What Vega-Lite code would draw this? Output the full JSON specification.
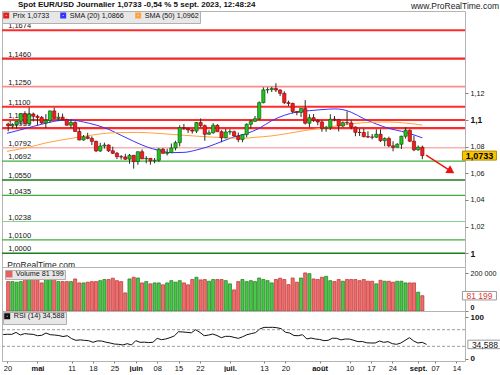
{
"$schema":"https://vega.github.io/schema/vega-lite/v6.json",
"background":"#ffffff",
"padding":0,
"spacing":0,
"bounds":"flush",
"title":{"text":"www.ProRealTime.com","anchor":"end","frame":"group","dx":34,"offset":-10,"font":"Liberation Sans","fontSize":8.5,"fontWeight":"normal","color":"#222222"},
"config":{
 "locale":{"number":{"decimal":",","thousands":" ","grouping":[3],"currency":["","€"]}},
 "font":"Liberation Sans",
 "view":{"stroke":"#b4b4b4","strokeWidth":1},
 "axis":{"labelFont":"Liberation Sans","labelColor":"#111111","tickColor":"#808080","domain":false,"grid":false,"labelOverlap":false,"labelFlush":false,"labelFontSize":7.2,"tickSize":3,"labelPadding":2},
 "legend":{"orient":"top-left","direction":"horizontal","offset":1,"padding":0.6,"fillColor":"#e7e7e7","strokeColor":"#b0b0b0","labelFont":"Liberation Sans","labelFontSize":7.2,"labelColor":"#111111","symbolType":"square","columnPadding":6,"labelOffset":3,"rowPadding":0}
},
"datasets":{
"d":[
{"d":"04-19","i":-1,"o":1.0970,"h":1.0980,"l":1.0915,"c":1.0957,"v":156000,"r":58.5},
{"d":"04-20","i":0,"o":1.0957,"h":1.0976,"l":1.0937,"c":1.0966,"v":156000,"r":59},
{"d":"04-21","i":1,"o":1.0966,"h":1.0990,"l":1.0936,"c":1.0990,"v":153000,"r":58.8},
{"d":"04-24","i":2,"o":1.0990,"h":1.1050,"l":1.0964,"c":1.1048,"v":156000,"r":63.5},
{"d":"04-25","i":3,"o":1.1048,"h":1.1066,"l":1.0965,"c":1.0973,"v":167000,"r":57.2},
{"d":"04-26","i":4,"o":1.0973,"h":1.1095,"l":1.0962,"c":1.1045,"v":170000,"r":60.5},
{"d":"04-27","i":5,"o":1.1045,"h":1.1056,"l":1.0989,"c":1.1028,"v":167000,"r":59.5},
{"d":"04-28","i":6,"o":1.1028,"h":1.1040,"l":1.0961,"c":1.1019,"v":167000,"r":58.8},
{"d":"05-01","i":7,"o":1.1019,"h":1.1030,"l":1.0970,"c":1.0978,"v":149000,"r":55.6},
{"d":"05-02","i":8,"o":1.0978,"h":1.1044,"l":1.0940,"c":1.0996,"v":167000,"r":56.5},
{"d":"05-03","i":9,"o":1.0996,"h":1.1070,"l":1.0980,"c":1.1068,"v":167000,"r":62},
{"d":"05-04","i":10,"o":1.1068,"h":1.1092,"l":1.1008,"c":1.1012,"v":167000,"r":58},
{"d":"05-05","i":11,"o":1.1012,"h":1.1054,"l":1.0993,"c":1.1021,"v":156000,"r":57.2},
{"d":"05-08","i":12,"o":1.1021,"h":1.1048,"l":1.0998,"c":1.1003,"v":156000,"r":56},
{"d":"05-09","i":13,"o":1.1003,"h":1.1010,"l":1.0957,"c":1.0961,"v":156000,"r":53.5},
{"d":"05-10","i":14,"o":1.0961,"h":1.1004,"l":1.0940,"c":1.0982,"v":156000,"r":55.6},
{"d":"05-11","i":15,"o":1.0982,"h":1.0990,"l":1.0912,"c":1.0914,"v":170000,"r":48.5},
{"d":"05-12","i":16,"o":1.0914,"h":1.0940,"l":1.0848,"c":1.0850,"v":149000,"r":44.4},
{"d":"05-15","i":17,"o":1.0850,"h":1.0887,"l":1.0845,"c":1.0874,"v":149000,"r":45.5},
{"d":"05-16","i":18,"o":1.0874,"h":1.0904,"l":1.0855,"c":1.0862,"v":153000,"r":44.4},
{"d":"05-17","i":19,"o":1.0862,"h":1.0877,"l":1.0812,"c":1.0840,"v":156000,"r":43.5},
{"d":"05-18","i":20,"o":1.0840,"h":1.0845,"l":1.0760,"c":1.0768,"v":156000,"r":39.6},
{"d":"05-19","i":21,"o":1.0768,"h":1.0829,"l":1.0760,"c":1.0805,"v":161000,"r":43},
{"d":"05-22","i":22,"o":1.0805,"h":1.0830,"l":1.0786,"c":1.0812,"v":167000,"r":42.8},
{"d":"05-23","i":23,"o":1.0812,"h":1.0818,"l":1.0760,"c":1.0769,"v":167000,"r":40},
{"d":"05-24","i":24,"o":1.0769,"h":1.0800,"l":1.0745,"c":1.0750,"v":174000,"r":38},
{"d":"05-25","i":25,"o":1.0750,"h":1.0760,"l":1.0707,"c":1.0725,"v":161000,"r":35.5},
{"d":"05-26","i":26,"o":1.0725,"h":1.0737,"l":1.0703,"c":1.0723,"v":156000,"r":34.8},
{"d":"05-29","i":27,"o":1.0723,"h":1.0746,"l":1.0701,"c":1.0706,"v":96000,"r":33.2},
{"d":"05-30","i":28,"o":1.0706,"h":1.0745,"l":1.0672,"c":1.0735,"v":170000,"r":36.4},
{"d":"05-31","i":29,"o":1.0735,"h":1.0737,"l":1.0635,"c":1.0688,"v":179000,"r":33.2},
{"d":"06-01","i":30,"o":1.0688,"h":1.0764,"l":1.0664,"c":1.0762,"v":175000,"r":43.6},
{"d":"06-02","i":31,"o":1.0762,"h":1.0779,"l":1.0708,"c":1.0708,"v":149000,"r":39.6},
{"d":"06-05","i":32,"o":1.0708,"h":1.0729,"l":1.0675,"c":1.0712,"v":156000,"r":40},
{"d":"06-06","i":33,"o":1.0712,"h":1.0714,"l":1.0665,"c":1.0693,"v":144000,"r":39},
{"d":"06-07","i":34,"o":1.0693,"h":1.0715,"l":1.0675,"c":1.0698,"v":149000,"r":39.6},
{"d":"06-08","i":35,"o":1.0698,"h":1.0789,"l":1.0685,"c":1.0781,"v":149000,"r":49.2},
{"d":"06-09","i":36,"o":1.0781,"h":1.0790,"l":1.0748,"c":1.0750,"v":139000,"r":46},
{"d":"06-12","i":37,"o":1.0750,"h":1.0785,"l":1.0734,"c":1.0755,"v":149000,"r":47.6},
{"d":"06-13","i":38,"o":1.0755,"h":1.0823,"l":1.0752,"c":1.0790,"v":161000,"r":50.8},
{"d":"06-14","i":39,"o":1.0790,"h":1.0844,"l":1.0772,"c":1.0830,"v":153000,"r":55},
{"d":"06-15","i":40,"o":1.0830,"h":1.0960,"l":1.0802,"c":1.0943,"v":161000,"r":65.2},
{"d":"06-16","i":41,"o":1.0943,"h":1.0970,"l":1.0925,"c":1.0938,"v":149000,"r":64.5},
{"d":"06-19","i":42,"o":1.0938,"h":1.0942,"l":1.0902,"c":1.0925,"v":139000,"r":63.6},
{"d":"06-20","i":43,"o":1.0925,"h":1.0933,"l":1.0898,"c":1.0917,"v":167000,"r":62.5},
{"d":"06-21","i":44,"o":1.0917,"h":1.0985,"l":1.0902,"c":1.0981,"v":179000,"r":70},
{"d":"06-22","i":45,"o":1.0981,"h":1.1012,"l":1.0945,"c":1.0957,"v":165000,"r":63.6},
{"d":"06-23","i":46,"o":1.0957,"h":1.0967,"l":1.0844,"c":1.0893,"v":167000,"r":55.6},
{"d":"06-26","i":47,"o":1.0893,"h":1.0923,"l":1.0891,"c":1.0904,"v":158000,"r":57},
{"d":"06-27","i":48,"o":1.0904,"h":1.0976,"l":1.0897,"c":1.0960,"v":167000,"r":59.6},
{"d":"06-28","i":49,"o":1.0960,"h":1.0969,"l":1.0918,"c":1.0912,"v":167000,"r":56},
{"d":"06-29","i":50,"o":1.0912,"h":1.0923,"l":1.0833,"c":1.0867,"v":167000,"r":50.8},
{"d":"06-30","i":51,"o":1.0867,"h":1.0934,"l":1.0863,"c":1.0910,"v":161000,"r":54},
{"d":"07-03","i":52,"o":1.0910,"h":1.0931,"l":1.0890,"c":1.0913,"v":144000,"r":54},
{"d":"07-04","i":53,"o":1.0912,"h":1.0920,"l":1.0875,"c":1.0880,"v":112000,"r":51.5},
{"d":"07-05","i":54,"o":1.0880,"h":1.0906,"l":1.0834,"c":1.0853,"v":156000,"r":49.2},
{"d":"07-06","i":55,"o":1.0853,"h":1.0895,"l":1.0833,"c":1.0890,"v":167000,"r":53},
{"d":"07-07","i":56,"o":1.0890,"h":1.0975,"l":1.0870,"c":1.0968,"v":156000,"r":58},
{"d":"07-10","i":57,"o":1.0968,"h":1.1000,"l":1.0935,"c":1.0990,"v":161000,"r":60.5},
{"d":"07-11","i":58,"o":1.0990,"h":1.1030,"l":1.0985,"c":1.1010,"v":156000,"r":63},
{"d":"07-12","i":59,"o":1.1010,"h":1.1140,"l":1.1000,"c":1.1130,"v":175000,"r":71.6},
{"d":"07-13","i":60,"o":1.1130,"h":1.1245,"l":1.1125,"c":1.1226,"v":167000,"r":75.6},
{"d":"07-14","i":61,"o":1.1226,"h":1.1245,"l":1.1200,"c":1.1228,"v":161000,"r":75.6},
{"d":"07-17","i":62,"o":1.1228,"h":1.1248,"l":1.1210,"c":1.1236,"v":149000,"r":75.8},
{"d":"07-18","i":63,"o":1.1236,"h":1.1276,"l":1.1210,"c":1.1225,"v":167000,"r":74.8},
{"d":"07-19","i":64,"o":1.1225,"h":1.1230,"l":1.1180,"c":1.1200,"v":174000,"r":72.5},
{"d":"07-20","i":65,"o":1.1200,"h":1.1215,"l":1.1120,"c":1.1130,"v":167000,"r":64},
{"d":"07-21","i":66,"o":1.1130,"h":1.1145,"l":1.1105,"c":1.1124,"v":140000,"r":62},
{"d":"07-24","i":67,"o":1.1124,"h":1.1130,"l":1.1050,"c":1.1064,"v":175000,"r":56},
{"d":"07-25","i":68,"o":1.1064,"h":1.1067,"l":1.1035,"c":1.1056,"v":153000,"r":55.6},
{"d":"07-26","i":69,"o":1.1056,"h":1.1087,"l":1.1021,"c":1.1086,"v":175000,"r":58},
{"d":"07-27","i":70,"o":1.1086,"h":1.1149,"l":1.0966,"c":1.0976,"v":202000,"r":47.6},
{"d":"07-28","i":71,"o":1.0976,"h":1.1043,"l":1.0945,"c":1.1017,"v":198000,"r":50},
{"d":"07-31","i":72,"o":1.1017,"h":1.1045,"l":1.0985,"c":1.0997,"v":170000,"r":47.6},
{"d":"08-01","i":73,"o":1.0997,"h":1.1005,"l":1.0961,"c":1.0985,"v":167000,"r":46.5},
{"d":"08-02","i":74,"o":1.0985,"h":1.0997,"l":1.0912,"c":1.0937,"v":179000,"r":43.6},
{"d":"08-03","i":75,"o":1.0937,"h":1.0956,"l":1.0912,"c":1.0945,"v":184000,"r":44.5},
{"d":"08-04","i":76,"o":1.0945,"h":1.1043,"l":1.0925,"c":1.1006,"v":161000,"r":49.5},
{"d":"08-07","i":77,"o":1.1006,"h":1.1030,"l":1.0990,"c":1.1004,"v":156000,"r":49.2},
{"d":"08-08","i":78,"o":1.1004,"h":1.1008,"l":1.0914,"c":1.0955,"v":167000,"r":45.5},
{"d":"08-09","i":79,"o":1.0955,"h":1.0990,"l":1.0945,"c":1.0980,"v":158000,"r":47.6},
{"d":"08-10","i":80,"o":1.0980,"h":1.1065,"l":1.0965,"c":1.0978,"v":167000,"r":47.4},
{"d":"08-11","i":81,"o":1.0978,"h":1.0998,"l":1.0930,"c":1.0947,"v":167000,"r":44.4},
{"d":"08-14","i":82,"o":1.0947,"h":1.0952,"l":1.0878,"c":1.0907,"v":167000,"r":41.2},
{"d":"08-15","i":83,"o":1.0907,"h":1.0935,"l":1.0880,"c":1.0906,"v":161000,"r":41.5},
{"d":"08-16","i":84,"o":1.0906,"h":1.0935,"l":1.0870,"c":1.0875,"v":167000,"r":38.5},
{"d":"08-17","i":85,"o":1.0875,"h":1.0915,"l":1.0865,"c":1.0872,"v":158000,"r":38},
{"d":"08-18","i":86,"o":1.0872,"h":1.0895,"l":1.0855,"c":1.0871,"v":158000,"r":38},
{"d":"08-21","i":87,"o":1.0871,"h":1.0930,"l":1.0865,"c":1.0893,"v":144000,"r":42.8},
{"d":"08-22","i":88,"o":1.0893,"h":1.0930,"l":1.0835,"c":1.0845,"v":163000,"r":39.6},
{"d":"08-23","i":89,"o":1.0845,"h":1.0870,"l":1.0803,"c":1.0861,"v":158000,"r":41.2},
{"d":"08-24","i":90,"o":1.0861,"h":1.0875,"l":1.0796,"c":1.0806,"v":158000,"r":36.4},
{"d":"08-25","i":91,"o":1.0806,"h":1.0840,"l":1.0765,"c":1.0795,"v":153000,"r":34.8},
{"d":"08-28","i":92,"o":1.0795,"h":1.0826,"l":1.0795,"c":1.0818,"v":158000,"r":38},
{"d":"08-29","i":93,"o":1.0818,"h":1.0882,"l":1.0782,"c":1.0878,"v":158000,"r":44.4},
{"d":"08-30","i":94,"o":1.0878,"h":1.0945,"l":1.0860,"c":1.0923,"v":149000,"r":50.8},
{"d":"08-31","i":95,"o":1.0923,"h":1.0930,"l":1.0834,"c":1.0841,"v":149000,"r":42.8},
{"d":"09-01","i":96,"o":1.0841,"h":1.0882,"l":1.0766,"c":1.0776,"v":149000,"r":38},
{"d":"09-04","i":97,"o":1.0776,"h":1.0809,"l":1.0770,"c":1.0796,"v":100000,"r":39.6},
{"d":"09-05","i":98,"o":1.0796,"h":1.0808,"l":1.0706,"c":1.0733,"v":81199,"r":34.588}
],
"sma":[
{"s":"SMA (20) 1,0866","i":-1.28,"v":1.0900},{"s":"SMA (20) 1,0866","i":3,"v":1.0935},{"s":"SMA (20) 1,0866","i":7,"v":1.0968},{"s":"SMA (20) 1,0866","i":11,"v":1.0995},{"s":"SMA (20) 1,0866","i":14,"v":1.1000},{"s":"SMA (20) 1,0866","i":17,"v":1.0985},{"s":"SMA (20) 1,0866","i":20,"v":1.0962},{"s":"SMA (20) 1,0866","i":23,"v":1.0930},{"s":"SMA (20) 1,0866","i":26,"v":1.0885},{"s":"SMA (20) 1,0866","i":29,"v":1.0840},{"s":"SMA (20) 1,0866","i":32,"v":1.0800},{"s":"SMA (20) 1,0866","i":35,"v":1.0772},{"s":"SMA (20) 1,0866","i":38,"v":1.0755},{"s":"SMA (20) 1,0866","i":41,"v":1.0757},{"s":"SMA (20) 1,0866","i":44,"v":1.0775},{"s":"SMA (20) 1,0866","i":47,"v":1.0802},{"s":"SMA (20) 1,0866","i":50,"v":1.0838},{"s":"SMA (20) 1,0866","i":53,"v":1.0873},{"s":"SMA (20) 1,0866","i":56,"v":1.0898},{"s":"SMA (20) 1,0866","i":59,"v":1.0938},{"s":"SMA (20) 1,0866","i":62,"v":1.0995},{"s":"SMA (20) 1,0866","i":65,"v":1.1035},{"s":"SMA (20) 1,0866","i":68,"v":1.1060},{"s":"SMA (20) 1,0866","i":71,"v":1.1070},{"s":"SMA (20) 1,0866","i":74,"v":1.1078},{"s":"SMA (20) 1,0866","i":77,"v":1.1083},{"s":"SMA (20) 1,0866","i":79,"v":1.1078},{"s":"SMA (20) 1,0866","i":81,"v":1.1058},{"s":"SMA (20) 1,0866","i":84,"v":1.1010},{"s":"SMA (20) 1,0866","i":87,"v":1.0970},{"s":"SMA (20) 1,0866","i":90,"v":1.0937},{"s":"SMA (20) 1,0866","i":93,"v":1.0915},{"s":"SMA (20) 1,0866","i":95,"v":1.0898},{"s":"SMA (20) 1,0866","i":98,"v":1.0866},
{"s":"SMA (50) 1,0962","i":-1.28,"v":1.0765},{"s":"SMA (50) 1,0962","i":4,"v":1.0796},{"s":"SMA (50) 1,0962","i":8,"v":1.0828},{"s":"SMA (50) 1,0962","i":14,"v":1.0862},{"s":"SMA (50) 1,0962","i":18,"v":1.0882},{"s":"SMA (50) 1,0962","i":24,"v":1.0904},{"s":"SMA (50) 1,0962","i":30,"v":1.0907},{"s":"SMA (50) 1,0962","i":36,"v":1.0897},{"s":"SMA (50) 1,0962","i":43,"v":1.0881},{"s":"SMA (50) 1,0962","i":50,"v":1.0868},{"s":"SMA (50) 1,0962","i":55,"v":1.0863},{"s":"SMA (50) 1,0962","i":58,"v":1.0870},{"s":"SMA (50) 1,0962","i":62,"v":1.0881},{"s":"SMA (50) 1,0962","i":66,"v":1.0900},{"s":"SMA (50) 1,0962","i":70,"v":1.0921},{"s":"SMA (50) 1,0962","i":75,"v":1.0944},{"s":"SMA (50) 1,0962","i":81,"v":1.0970},{"s":"SMA (50) 1,0962","i":86,"v":1.0984},{"s":"SMA (50) 1,0962","i":90,"v":1.0985},{"s":"SMA (50) 1,0962","i":94,"v":1.0977},{"s":"SMA (50) 1,0962","i":98,"v":1.0962}
],
"lv":[
{"p":1.1674,"k":"R"},{"p":1.1460,"k":"R+"},{"p":1.1250,"k":"R-"},{"p":1.1100,"k":"R"},{"p":1.1000,"k":"R"},{"p":1.0939,"k":"R"},{"p":1.0792,"k":"P"},{"p":1.0692,"k":"S"},{"p":1.0550,"k":"S+"},{"p":1.0435,"k":"S"},{"p":1.0238,"k":"S-"},{"p":1.0100,"k":"S"},{"p":1.0000,"k":"S+"}
]
},
"vconcat":[
{"width":463,"height":256,
 "title":{"text":"Spot EUR/USD Journalier 1,0733 -0,54 % 5 sept. 2023, 12:48:24","anchor":"start","frame":"group","dx":16,"offset":2,"font":"Liberation Sans","fontSize":8,"fontWeight":"bold","color":"#111111"},
 "layer":[
  {"data":{"name":"lv"},"mark":{"type":"rule"},
   "encoding":{
    "y":{"field":"p","type":"quantitative","title":null,"scale":{"domain":[0.98972,1.18177],"nice":false,"zero":false},
     "axis":{"orient":"right","values":[1,1.02,1.04,1.06,1.08,1.1,1.12],"format":".2~f",
      "labelFontSize":{"condition":{"test":"datum.value == 1 || datum.value == 1.1","value":8.5},"value":7.2},
      "labelFontWeight":{"condition":{"test":"datum.value == 1 || datum.value == 1.1","value":"bold"},"value":"normal"}}},
    "stroke":{"field":"k","type":"nominal","scale":{"domain":["R+","R","R-","P","S+","S","S-"],"range":["#ee2a2a","#ff2b2b","#ff8a8a","#f6b3b3","#1b7d1b","#3fae3f","#8ad28a"]},"legend":null},
    "strokeWidth":{"field":"k","type":"ordinal","scale":{"domain":["R+","R","R-","P","S+","S","S-"],"range":[2.2,1.1,1,3,2.2,1,1]},"legend":null}
   }},
  {"data":{"name":"lv"},"mark":{"type":"text","align":"left","baseline":"alphabetic","dx":1,"dy":-1.8,"fontSize":7.5,"color":"#111111"},
   "encoding":{
    "x":{"datum":-1.25,"type":"quantitative","scale":{"domain":[-1.286,107],"nice":false,"zero":false},"axis":null},
    "y":{"field":"p","type":"quantitative","title":null},
    "text":{"field":"p","type":"quantitative","format":".4f"}}},
  {"data":{"name":"sma"},"mark":{"type":"line","strokeWidth":1,"interpolate":"monotone"},
   "encoding":{
    "x":{"field":"i","type":"quantitative","title":null,"scale":{"domain":[-1.286,107],"nice":false,"zero":false},"axis":null},
    "y":{"field":"v","type":"quantitative","title":null},
    "color":{"field":"s","type":"nominal","scale":{"domain":["Prix 1,0733","SMA (20) 1,0866","SMA (50) 1,0962"],"range":["#e3201b","#3434ff","#ffa33a"]},"legend":{"title":null,"symbolSize":12,"symbolStrokeWidth":2.5,"offset":0}}}},
  {"data":{"name":"d"},"mark":{"type":"rule","color":"#2b2b2b","strokeWidth":1},
   "encoding":{
    "x":{"field":"i","type":"quantitative","title":null,"scale":{"domain":[-1.286,107],"nice":false,"zero":false},"axis":null},
    "y":{"field":"l","type":"quantitative","title":null},
    "y2":{"field":"h"}}},
  {"data":{"name":"d"},"mark":{"type":"bar","width":3.2,"strokeWidth":0.7,"orient":"vertical"},
   "encoding":{
    "x":{"field":"i","type":"quantitative","title":null,"scale":{"domain":[-1.286,107],"nice":false,"zero":false},"axis":null},
    "y":{"field":"o","type":"quantitative","title":null},
    "y2":{"field":"c"},
    "fill":{"condition":{"test":"datum.c >= datum.o","value":"#22c322"},"value":"#f01e1e"},
    "stroke":{"condition":{"test":"datum.c >= datum.o","value":"#0d5f0d"},"value":"#8e0b0b"}}},
  {"data":{"values":[{}]},"mark":{"type":"rule","color":"#ee1111","strokeWidth":1.4},
   "encoding":{
    "x":{"datum":98.88,"type":"quantitative","scale":{"domain":[-1.286,107],"nice":false,"zero":false},"axis":null},
    "y":{"datum":1.0737,"type":"quantitative"},
    "x2":{"datum":104.72},"y2":{"datum":1.0618}}},
  {"data":{"values":[{}]},"mark":{"type":"point","shape":"triangle-right","filled":true,"color":"#ee1111","size":80,"angle":32.4,"opacity":1},
   "encoding":{
    "x":{"datum":104.85,"type":"quantitative","scale":{"domain":[-1.286,107],"nice":false,"zero":false},"axis":null},
    "y":{"datum":1.0616,"type":"quantitative"}}},
  {"data":{"values":[{}]},"mark":{"type":"text","align":"left","baseline":"middle","fontSize":8.5,"color":"#222222","text":"ProRealTime.com"},
   "encoding":{
    "x":{"datum":-1.2,"type":"quantitative","scale":{"domain":[-1.286,107],"nice":false,"zero":false},"axis":null},
    "y":{"datum":0.9915,"type":"quantitative"}}},
  {"data":{"name":"d"},"transform":[{"filter":"datum.i == 98"}],"mark":{"type":"point","shape":"M-1,-0.265L1,-0.265L1,0.265L-1,0.265Z","filled":true,"size":1156,"fill":"#f9c400","stroke":"#b08a00","strokeWidth":1,"opacity":1},
   "encoding":{
    "x":{"datum":111.65,"type":"quantitative","scale":{"domain":[-1.286,107],"nice":false,"zero":false},"axis":null},
    "y":{"field":"c","type":"quantitative","title":null}}},
  {"data":{"name":"d"},"transform":[{"filter":"datum.i == 98"}],"mark":{"type":"text","fontSize":9,"fontWeight":"bold","color":"#000000","align":"center","baseline":"middle","dy":0.5},
   "encoding":{
    "x":{"datum":111.65,"type":"quantitative","scale":{"domain":[-1.286,107],"nice":false,"zero":false},"axis":null},
    "y":{"field":"c","type":"quantitative","title":null},
    "text":{"field":"c","type":"quantitative","format":".4f"}}}
 ]},
{"width":463,"height":44,
 "layer":[
  {"data":{"name":"d"},"mark":{"type":"bar","width":3.1,"strokeWidth":0.7,"orient":"vertical"},
   "encoding":{
    "x":{"field":"i","type":"quantitative","title":null,"scale":{"domain":[-1.286,107],"nice":false,"zero":false},"axis":null},
    "y":{"field":"v","type":"quantitative","title":null,"scale":{"domain":[0,233400],"nice":false,"zero":false},
     "axis":{"orient":"right","values":[0,50000,100000,150000,200000],"format":",d","labelFlush":true,
      "labelFontWeight":{"condition":{"test":"datum.value == 0","value":"bold"},"value":"normal"}}},
    "fill":{"condition":{"test":"datum.c >= datum.o","value":"#47c847"},"value":"#ea7070"},
    "stroke":{"condition":{"test":"datum.c >= datum.o","value":"#1c7a1c"},"value":"#c52a2a"}}},
  {"data":{"values":[{}]},"mark":{"type":"point","filled":true,"shape":"square","size":0,"opacity":1},
   "encoding":{
    "x":{"datum":-1,"type":"quantitative","scale":{"domain":[-1.286,107],"nice":false,"zero":false},"axis":null},
    "y":{"datum":0,"type":"quantitative"},
    "color":{"datum":"Volume 81 199","type":"nominal","scale":{"range":["#e86060"]},"legend":{"title":null,"symbolSize":42,"symbolStrokeWidth":0,"offset":3}}}},
  {"data":{"name":"d"},"transform":[{"filter":"datum.i == 98"}],"mark":{"type":"point","shape":"M-1,-0.25L1,-0.25L1,0.25L-1,0.25Z","filled":true,"size":1156,"fill":"#ffffff","stroke":"#9a9a9a","strokeWidth":1,"opacity":1},
   "encoding":{
    "x":{"datum":111.65,"type":"quantitative","scale":{"domain":[-1.286,107],"nice":false,"zero":false},"axis":null},
    "y":{"field":"v","type":"quantitative","title":null}}},
  {"data":{"name":"d"},"transform":[{"filter":"datum.i == 98"}],"mark":{"type":"text","fontSize":8.5,"color":"#e03a3a","align":"center","baseline":"middle","dy":0.5},
   "encoding":{
    "x":{"datum":111.65,"type":"quantitative","scale":{"domain":[-1.286,107],"nice":false,"zero":false},"axis":null},
    "y":{"field":"v","type":"quantitative","title":null},
    "text":{"field":"v","type":"quantitative","format":",d"}}}
 ]},
{"width":463,"height":50,
 "layer":[
  {"data":{"name":"d"},"mark":{"type":"line","strokeWidth":1},
   "encoding":{
    "x":{"field":"i","type":"quantitative","title":null,"scale":{"domain":[-1.286,107],"nice":false,"zero":false},
     "axis":{"orient":"bottom","values":[0,7,15,20,25,30,35,40,45,52,60,65,73,80,85,90,96,100,105],"labelOverlap":false,"labelSeparation":0,
      "labelExpr":"datum.value == 0 ? '20' : datum.value == 7 ? 'mai' : datum.value == 15 ? '11' : datum.value == 20 ? '18' : datum.value == 25 ? '25' : datum.value == 30 ? 'juin' : datum.value == 35 ? '08' : datum.value == 40 ? '15' : datum.value == 45 ? '22' : datum.value == 52 ? 'juil.' : datum.value == 60 ? '13' : datum.value == 65 ? '20' : datum.value == 73 ? 'août' : datum.value == 80 ? '10' : datum.value == 85 ? '17' : datum.value == 90 ? '24' : datum.value == 96 ? 'sept.' : datum.value == 100 ? '07' : '14'",
      "labelFontSize":7.5,"tickSize":2,"labelPadding":1,
      "labelFontWeight":{"condition":{"test":"datum.value == 7 || datum.value == 30 || datum.value == 52 || datum.value == 73 || datum.value == 96","value":"bold"},"value":"normal"}}},
    "y":{"field":"r","type":"quantitative","title":null,"scale":{"domain":[-5.4,115.1],"nice":false,"zero":false},
     "axis":{"orient":"right","values":[0,50,100],"format":"d",
      "labelFontSize":{"condition":{"test":"datum.value != 50","value":8},"value":7.5},
      "labelFontWeight":{"condition":{"test":"datum.value != 50","value":"bold"},"value":"normal"}}},
    "color":{"datum":"RSI (14) 34,588","type":"nominal","scale":{"range":["#111111"]},"legend":{"title":null,"symbolSize":12,"symbolStrokeWidth":2.5}}}},
  {"data":{"values":[{"lv":70},{"lv":30}]},"mark":{"type":"rule","color":"#9a9a9a","strokeDash":[3,2],"strokeWidth":1},
   "encoding":{
    "y":{"field":"lv","type":"quantitative","title":null}}},
  {"data":{"name":"d"},"transform":[{"filter":"datum.i == 98"}],"mark":{"type":"point","shape":"M-1,-0.25L1,-0.25L1,0.25L-1,0.25Z","filled":true,"size":1156,"fill":"#ffffff","stroke":"#9a9a9a","strokeWidth":1,"opacity":1},
   "encoding":{
    "x":{"datum":111.65,"type":"quantitative",
     "axis":{"orient":"bottom","values":[0,7,15,20,25,30,35,40,45,52,60,65,73,80,85,90,96,100,105],"labelOverlap":false,"labelSeparation":0,
      "labelExpr":"datum.value == 0 ? '20' : datum.value == 7 ? 'mai' : datum.value == 15 ? '11' : datum.value == 20 ? '18' : datum.value == 25 ? '25' : datum.value == 30 ? 'juin' : datum.value == 35 ? '08' : datum.value == 40 ? '15' : datum.value == 45 ? '22' : datum.value == 52 ? 'juil.' : datum.value == 60 ? '13' : datum.value == 65 ? '20' : datum.value == 73 ? 'août' : datum.value == 80 ? '10' : datum.value == 85 ? '17' : datum.value == 90 ? '24' : datum.value == 96 ? 'sept.' : datum.value == 100 ? '07' : '14'",
      "labelFontSize":7.5,"tickSize":2,"labelPadding":1,
      "labelFontWeight":{"condition":{"test":"datum.value == 7 || datum.value == 30 || datum.value == 52 || datum.value == 73 || datum.value == 96","value":"bold"},"value":"normal"}}},
    "y":{"field":"r","type":"quantitative","title":null}}},
  {"data":{"name":"d"},"transform":[{"filter":"datum.i == 98"}],"mark":{"type":"text","fontSize":8.5,"color":"#111111","align":"center","baseline":"middle","dy":0.5},
   "encoding":{
    "x":{"datum":111.65,"type":"quantitative",
     "axis":{"orient":"bottom","values":[0,7,15,20,25,30,35,40,45,52,60,65,73,80,85,90,96,100,105],"labelOverlap":false,"labelSeparation":0,
      "labelExpr":"datum.value == 0 ? '20' : datum.value == 7 ? 'mai' : datum.value == 15 ? '11' : datum.value == 20 ? '18' : datum.value == 25 ? '25' : datum.value == 30 ? 'juin' : datum.value == 35 ? '08' : datum.value == 40 ? '15' : datum.value == 45 ? '22' : datum.value == 52 ? 'juil.' : datum.value == 60 ? '13' : datum.value == 65 ? '20' : datum.value == 73 ? 'août' : datum.value == 80 ? '10' : datum.value == 85 ? '17' : datum.value == 90 ? '24' : datum.value == 96 ? 'sept.' : datum.value == 100 ? '07' : '14'",
      "labelFontSize":7.5,"tickSize":2,"labelPadding":1,
      "labelFontWeight":{"condition":{"test":"datum.value == 7 || datum.value == 30 || datum.value == 52 || datum.value == 73 || datum.value == 96","value":"bold"},"value":"normal"}}},
    "y":{"field":"r","type":"quantitative","title":null},
    "text":{"field":"r","type":"quantitative","format":".3f"}}}
 ]}
],
"resolve":{"scale":{"color":"independent"},"legend":{"color":"independent"}}
}
